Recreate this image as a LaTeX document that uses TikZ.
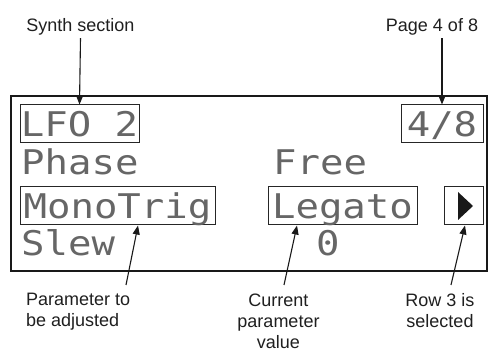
\documentclass[tikz,border=0pt]{standalone}
\usepackage{fontspec}
\usepackage{graphicx}
\setmainfont{Liberation Sans}
\newfontfamily\lcdfont{DejaVu Sans Mono}
\usetikzlibrary{arrows.meta,calc}
\newcommand{\lcdtxt}[1]{\scalebox{1.146}[1]{\lcdfont\fontsize{34}{34}\selectfont #1}}
\tikzset{
  lbl/.style={inner sep=0pt, font=\fontsize{18}{21}\selectfont, text=black!88},
  lcd/.style={inner sep=0pt, text=black!60},
  lcdbox/.style={draw=black!85, line width=1pt, inner sep=0pt, text=black!60,
    text height=25pt, text depth=0pt, minimum height=38pt},
  ptr/.style={draw=black!90, line width=1.1pt, -{Triangle[length=9pt,width=7pt]}}
}
\begin{document}
\begin{tikzpicture}[x=1pt,y=-1pt]
\useasboundingbox (0,0) rectangle (488,352);
% display frame
\node[draw=black!90, line width=2.6pt, minimum width=476pt, minimum height=175pt, inner sep=0pt] (display) at (249,183.5) {};
% boxed fields
\node[lcdbox, minimum width=119pt] (lfo) at (79.5,124) {\lcdtxt{LFO 2}};
\node[lcdbox, minimum width=82pt] (page) at (442,124) {\lcdtxt{4/8}};
\node[lcdbox, minimum width=195pt] (mono) at (117.5,206) {\lcdtxt{MonoTrig}};
\node[lcdbox, minimum width=149pt] (legato) at (342.5,206) {\lcdtxt{Legato}};
\node[lcdbox, minimum width=39pt, text height=0pt] (sel) at (463.5,206) {};
\fill[black!90] ($(sel.center)+(-5.5,-14)$) -- ($(sel.center)+(9.5,0)$) -- ($(sel.center)+(-5.5,14)$) -- cycle;
% plain fields
\node[lcd, anchor=base west] (phase) at (21,175) {\lcdtxt{Phase}};
\node[lcd, anchor=base west] (free) at (273,175) {\lcdtxt{Free}};
\node[lcd, anchor=base west] (slew) at (21,256) {\lcdtxt{Slew}};
\node[lcd, anchor=base west] (zero) at (316,256) {\lcdtxt{0}};
% labels
\node[lbl, anchor=north] (synth) at (80.5,18) {Synth section};
\node[lbl, anchor=north] (pagelbl) at (432,18) {Page 4 of 8};
\node[lbl, anchor=north west, align=left] (param) at (26,293) {Parameter to\\be adjusted};
\node[lbl, anchor=north, align=center] (cur) at (278.5,294) {Current\\parameter\\value};
\node[lbl, anchor=north, align=center] (row) at (440,293) {Row 3 is\\selected};
% pointer start points
\coordinate (s1) at (126,285);
\coordinate (s2) at (284,285);
\coordinate (s3) at (451,285);
% connectors
\draw[ptr] ($(synth.south)+(0,3)$) -- (lfo.north);
\draw[ptr] (page.north |- pagelbl.south) ++(0,3) -- (page.north);
\draw[ptr] (s1) -- ($(mono.south)+(20.5,0)$);
\draw[ptr] (s2) -- ($(legato.south)+(-45.5,0)$);
\draw[ptr] (s3) -- ($(sel.south)+(1.5,0)$);
\end{tikzpicture}
\end{document}
